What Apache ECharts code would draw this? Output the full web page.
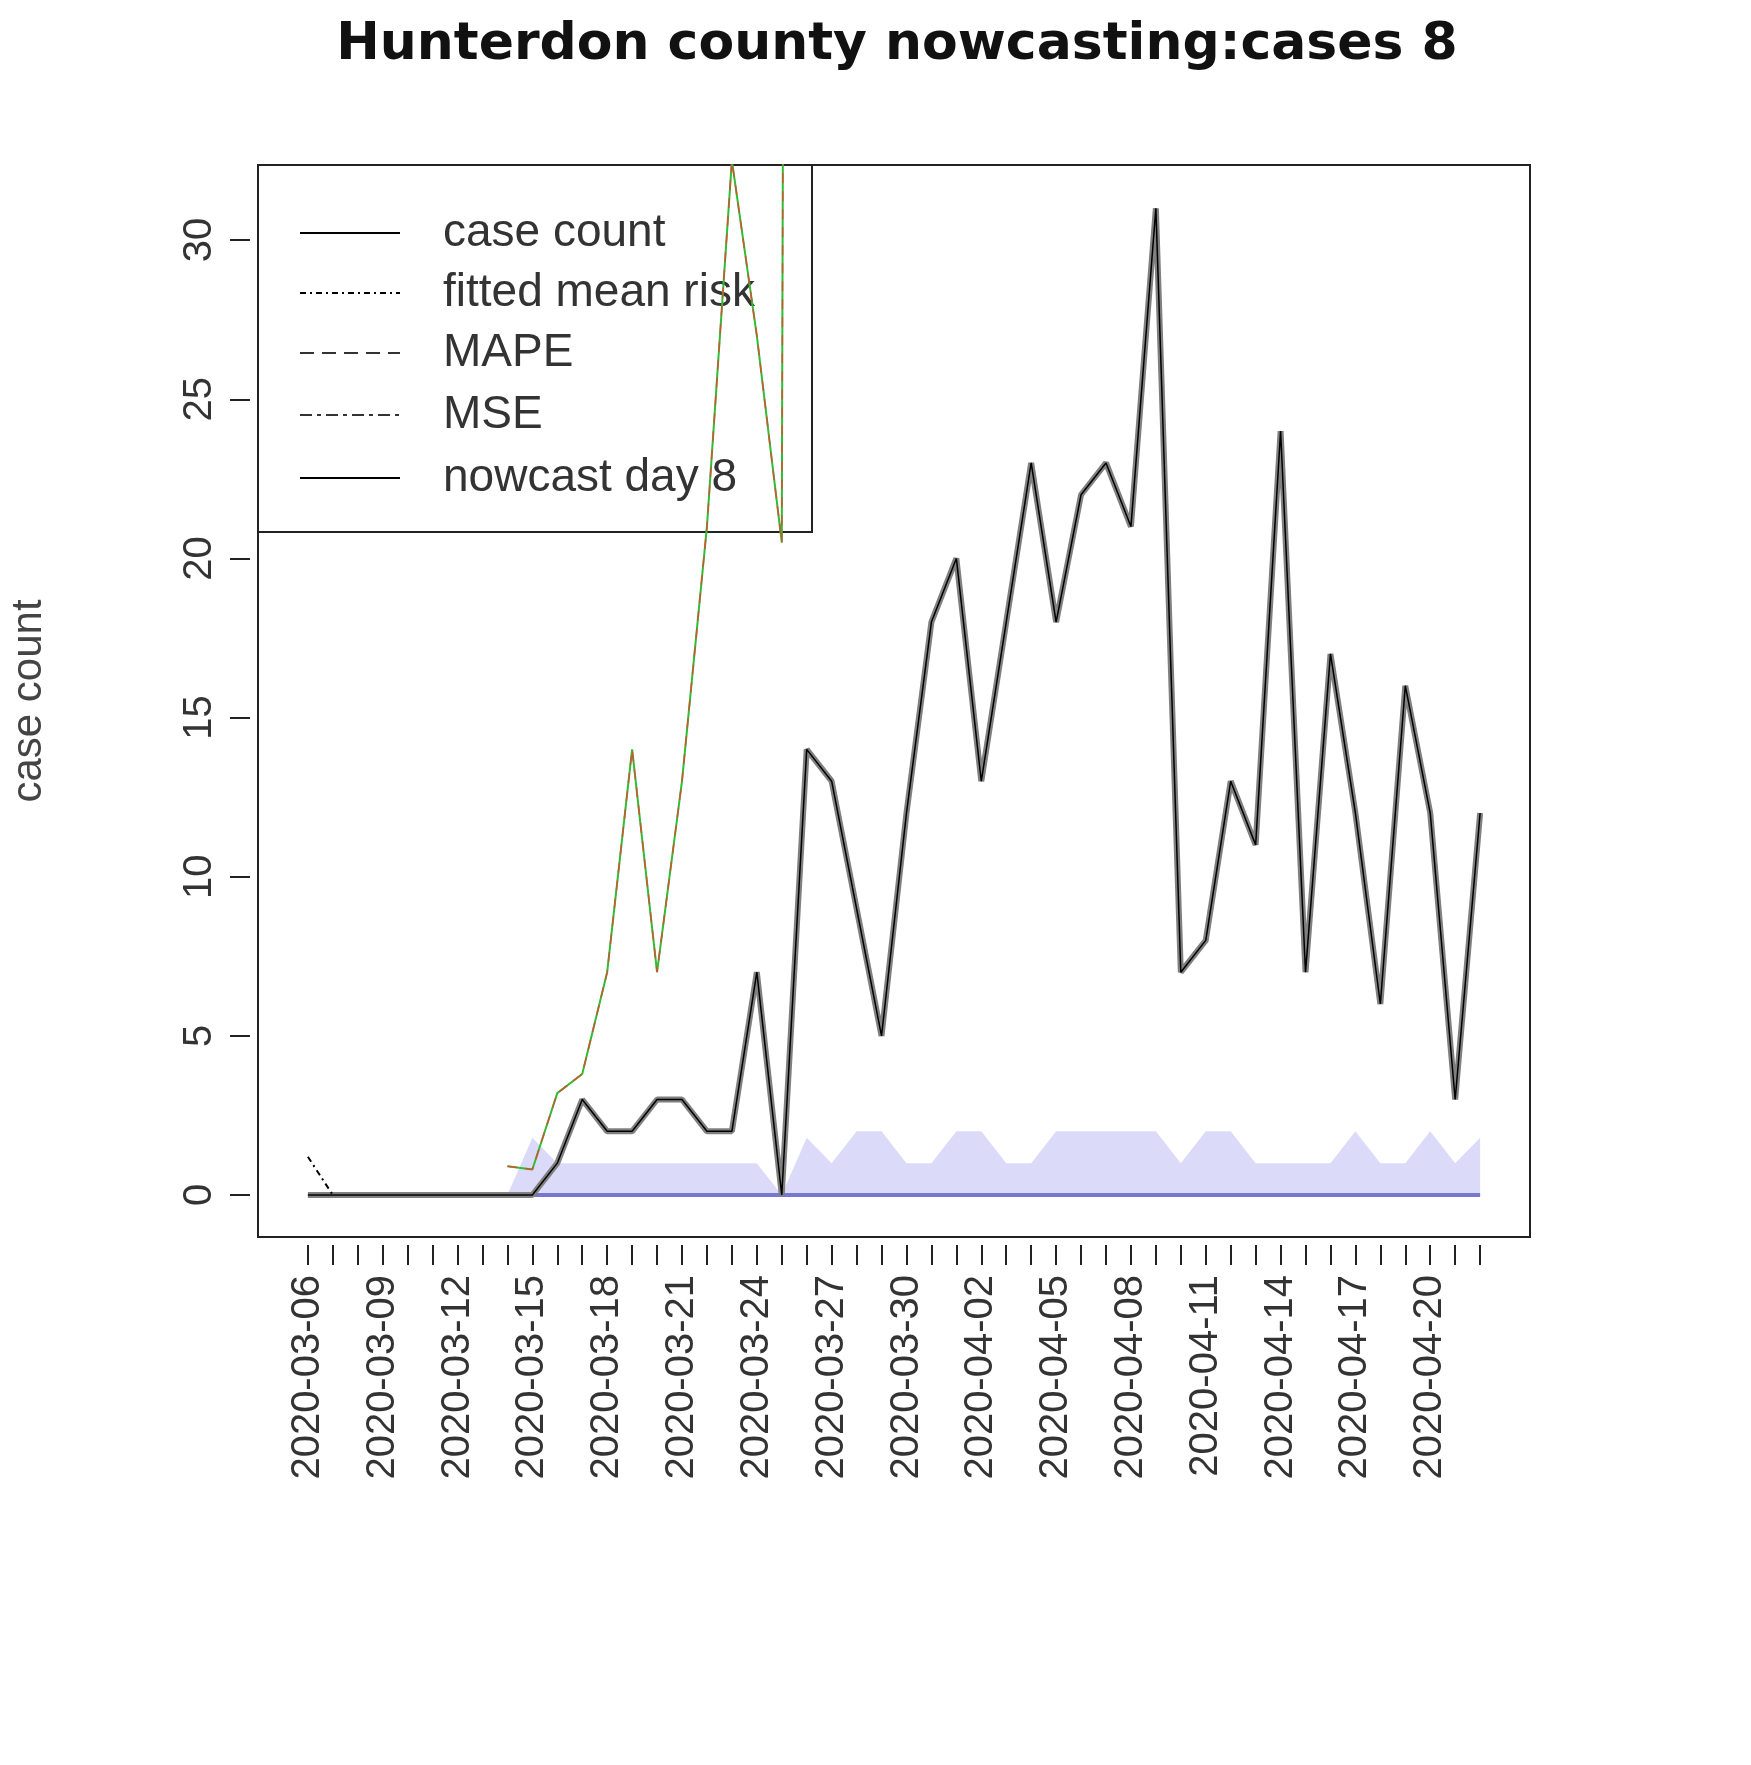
<!DOCTYPE html>
<html>
<head>
<meta charset="utf-8" />
<title>Hunterdon county nowcasting</title>
<script src="https://cdn.jsdelivr.net/npm/echarts@6/dist/echarts.min.js"></script>
<style>html,body{margin:0;padding:0;background:#fff}#chart{width:1751px;height:1765px}</style>
</head>
<body>
<div id="chart"></div>
<script>
// dates 2020-03-06 .. 2020-04-22, index 0..47
var dates = [];
(function () {
  var d = new Date(Date.UTC(2020, 2, 6));
  for (var i = 0; i < 48; i++) {
    dates.push(d.toISOString().slice(0, 10));
    d.setUTCDate(d.getUTCDate() + 1);
  }
})();

// case count per day
var caseCount = [0,0,0,0,0,0,0,0,0,0, 1,3,2,2,3,3,2,2,7,0,
  14,13,9,5,12,18,20,13,18,23, 18,22,23,21,31,7,8,13,11,24,
  7,17,12,6,16,12,3,12];
// fitted / MAPE / MSE (overlapping), starting at index 8
var fittedStart = 8;
var fitted = [0.9,0.8,3.2,3.8,7,14,7,13,21,32.5,27,20.5,300];
var fittedRiskHead = [1.2, 0];
// prediction band upper bound, starting at index 8
var bandStart = 8;
var bandUpper = [0,1.8,1,1,1,1,1,1,1,1,1,0,1.8,1,2,2,1,1,2,2,1,1,2,2,2,2,2,1,2,2,1,1,1,1,2,1,1,2,1,1.8];

function pairs(start, arr) {
  return arr.map(function (v, i) { return [start + i, v]; });
}
var tickVals = [];
for (var i = 0; i < 48; i++) tickVals.push(i);
var labelVals = [];
for (var j = 0; j < 48; j += 3) labelVals.push(j);
var yTicks = [0, 5, 10, 15, 20, 25, 30];

var chart = echarts.init(document.getElementById('chart'));
var txt = '#333';
var option = {
  animation: false,
  title: {
    text: 'Hunterdon county nowcasting:cases 8',
    left: 892, top: 14, textAlign: 'center',
    textStyle: { fontFamily: 'DejaVu Sans', fontWeight: 'bold', fontSize: 52, color: '#111' }
  },
  grid: { left: 258, right: 221, top: 165, bottom: 528, show: true, borderColor: '#222', borderWidth: 2 },
  xAxis: {
    type: 'value', min: -2, max: 49, offset: 8,
    axisLine: { show: false, onZero: false },
    splitLine: { show: false },
    axisTick: { show: true, length: 20, lineStyle: { color: '#222', width: 2 }, customValues: tickVals },
    axisLabel: {
      rotate: 90, margin: 30, fontSize: 40, color: txt, fontFamily: 'Liberation Sans',
      customValues: labelVals,
      formatter: function (v) { return dates[v] || ''; }
    }
  },
  yAxis: {
    type: 'value', min: -1.32, max: 32.36, offset: 8,
    name: 'case count', nameLocation: 'middle', nameGap: 200, nameRotate: 90,
    nameTextStyle: { fontSize: 42, color: '#444', fontFamily: 'Liberation Sans' },
    axisLine: { show: false, onZero: false },
    splitLine: { show: false },
    axisTick: { show: true, length: 20, lineStyle: { color: '#222', width: 2 }, customValues: yTicks },
    axisLabel: {
      rotate: 90, margin: 30, fontSize: 40, color: txt, fontFamily: 'Liberation Sans',
      customValues: yTicks
    }
  },
  graphic: [
    { type: 'rect', shape: { x: 258, y: 165, width: 554, height: 367 }, style: { fill: 'none', stroke: '#222', lineWidth: 2 }, z: 1 },
    { type: 'line', shape: { x1: 300, y1: 233, x2: 400, y2: 233 }, style: { stroke: '#000', lineWidth: 2 } },
    { type: 'line', shape: { x1: 300, y1: 293, x2: 400, y2: 293 }, style: { stroke: '#000', lineWidth: 2, lineDash: [6, 4, 2, 4] } },
    { type: 'line', shape: { x1: 300, y1: 353, x2: 400, y2: 353 }, style: { stroke: '#333', lineWidth: 2, lineDash: [14, 8] } },
    { type: 'line', shape: { x1: 300, y1: 415, x2: 400, y2: 415 }, style: { stroke: '#333', lineWidth: 2, lineDash: [12, 5, 4, 5] } },
    { type: 'line', shape: { x1: 300, y1: 478, x2: 400, y2: 478 }, style: { stroke: '#000', lineWidth: 2 } },
    { type: 'text', x: 443, y: 233, style: { text: 'case count', fontSize: 46, fill: txt, verticalAlign: 'middle', fontFamily: 'Liberation Sans' } },
    { type: 'text', x: 443, y: 293, style: { text: 'fitted mean risk', fontSize: 46, fill: txt, verticalAlign: 'middle', fontFamily: 'Liberation Sans' } },
    { type: 'text', x: 443, y: 353, style: { text: 'MAPE', fontSize: 46, fill: txt, verticalAlign: 'middle', fontFamily: 'Liberation Sans' } },
    { type: 'text', x: 443, y: 415, style: { text: 'MSE', fontSize: 46, fill: txt, verticalAlign: 'middle', fontFamily: 'Liberation Sans' } },
    { type: 'text', x: 443, y: 478, style: { text: 'nowcast day 8', fontSize: 46, fill: txt, verticalAlign: 'middle', fontFamily: 'Liberation Sans' } }
  ],
  series: [
    { name: 'band', type: 'line', data: pairs(bandStart, bandUpper), symbol: 'none',
      lineStyle: { width: 0 }, areaStyle: { color: 'rgba(170,170,240,0.6)', origin: 0 }, z: 2 },
    { name: 'band low', type: 'line', data: pairs(bandStart, bandUpper.map(function () { return 0; })), symbol: 'none',
      lineStyle: { color: '#7777cc', width: 4 }, z: 3 },
    { name: 'case count', type: 'line', data: pairs(0, caseCount), symbol: 'none',
      lineStyle: { color: '#808080', width: 6 }, z: 4 },
    { name: 'nowcast day 8', type: 'line', data: pairs(0, caseCount), symbol: 'none',
      lineStyle: { color: '#000', width: 1.5 }, z: 5 },
    { name: 'fitted mean risk', type: 'line', data: pairs(0, fittedRiskHead), symbol: 'none',
      lineStyle: { color: '#000', width: 2, type: [6, 4, 2, 4] }, z: 5 },
    { name: 'MSE', type: 'line', data: pairs(fittedStart, fitted), symbol: 'none',
      lineStyle: { color: '#33bb33', width: 2 }, z: 6 },
    { name: 'MAPE', type: 'line', data: pairs(fittedStart, fitted), symbol: 'none',
      lineStyle: { color: '#cc5533', width: 1.5, type: [10, 8] }, z: 7 }
  ]
};
chart.setOption(option);
</script>
</body>
</html>
